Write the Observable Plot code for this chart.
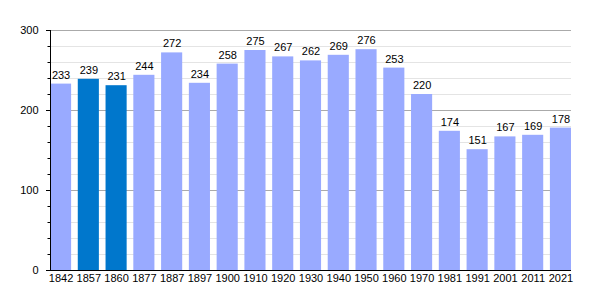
<!DOCTYPE html>
<html>
<head>
<meta charset="utf-8">
<script src="https://cdn.jsdelivr.net/npm/d3@7"></script>
<script src="https://cdn.jsdelivr.net/npm/@observablehq/plot@0.6"></script>
<style>
body { margin: 0; background: #fff; }
#chart svg { font-family: "Liberation Sans", Arial, sans-serif; }
</style>
</head>
<body>
<div id="chart"></div>
<script>
const years = ["1842","1857","1860","1877","1887","1897","1900","1910","1920","1930","1940","1950","1960","1970","1981","1991","2001","2011","2021"];
const population = [233,239,231,244,272,234,258,275,267,262,269,276,253,220,174,151,167,169,178];
const highlighted = ["1857","1860"];
const majorTicks = [0,100,200,300];
const minorTicks = [20,40,60,80,120,140,160,180,220,240,260,280];

const data = years.map((y, i) => ({year: y, value: population[i], hl: highlighted.includes(y)}));

const chart = Plot.plot({
  width: 600,
  height: 300,
  marginLeft: 50,
  marginRight: 29,
  marginTop: 30,
  marginBottom: 30,
  style: {fontSize: "11px", fontFamily: "Liberation Sans, Arial, sans-serif", color: "#000"},
  x: {domain: years, round: false, paddingInner: 0.24, paddingOuter: 0, label: null},
  y: {domain: [0, 300], label: null},
  marks: [
    Plot.ruleY(minorTicks, {stroke: "#e4e4e4", strokeWidth: 1}),
    Plot.ruleY([100, 200, 300], {stroke: "#aaaaaa", strokeWidth: 1}),
    Plot.barY(data, {x: "year", y: "value", fill: d => d.hl ? "#0077cc" : "#99aaff"}),
    Plot.text(data, {x: "year", y: "value", text: d => String(d.value), dy: -9, fill: "#000", fontSize: 11}),
    Plot.axisY({ticks: majorTicks, tickSize: 4, tickPadding: 8, label: null, fontSize: 11}),
    Plot.axisY({ticks: minorTicks, tickSize: 2.5, tickFormat: () => "", label: null}),
    Plot.axisX({tickSize: 0, tickPadding: 4, label: null, fontSize: 11}),
    Plot.ruleY([0], {stroke: "#000"}),
    Plot.frame({anchor: "left", stroke: "#000"})
  ]
});
document.getElementById("chart").appendChild(chart);
</script>
</body>
</html>
